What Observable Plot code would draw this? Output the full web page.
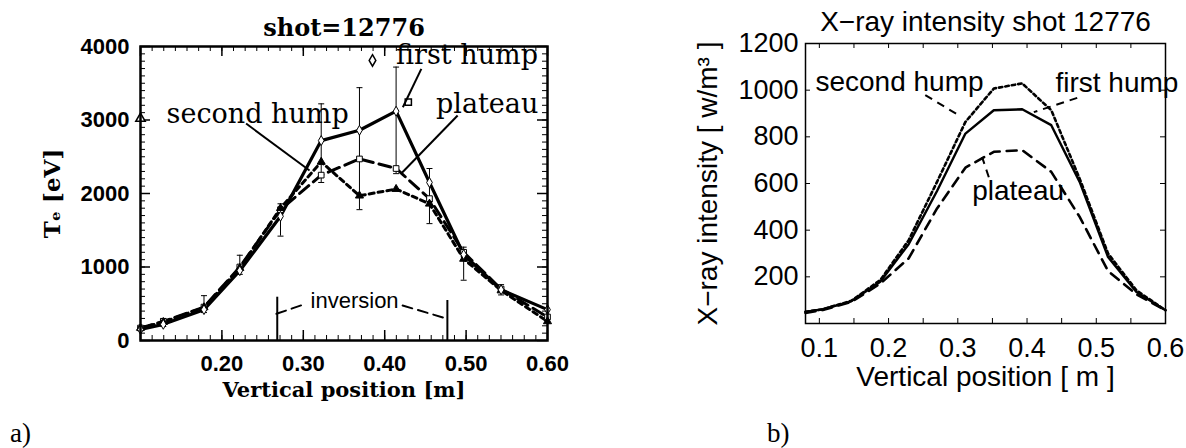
<!DOCTYPE html>
<html><head><meta charset="utf-8">
<script src="https://cdn.jsdelivr.net/npm/d3@7"></script>
<script src="https://cdn.jsdelivr.net/npm/@observablehq/plot@0.6"></script>
<style>
body{margin:0;background:#fff;}
#wrap{position:relative;width:1186px;height:448px;overflow:hidden;background:#fff;}
#wrap svg{position:absolute;top:0;}
.lab{position:absolute;font-family:"Liberation Serif",serif;font-size:27px;color:#000;line-height:1;}
</style></head><body><div id="wrap"></div>
<script>
// ---------- panel a : electron temperature ----------
const posA = [0.100, 0.128, 0.178, 0.222, 0.272, 0.322, 0.369, 0.414, 0.455, 0.497, 0.543, 0.600];
const teFirstHump  = [150, 220, 420, 950, 1690, 2720, 2860, 3120, 2150, 1170, 690, 420];
const teSecondHump = [170, 250, 450, 985, 1800, 2430, 1970, 2060, 1860, 1110, 680, 260];
const tePlateau    = [170, 260, 455, 1000, 1780, 2250, 2470, 2340, 1930, 1200, 700, 320];
const errPos  = [0.128, 0.178, 0.222, 0.272, 0.322, 0.369, 0.414, 0.455, 0.497, 0.543];
const errLow  = [190, 380, 900, 1420, 2150, 1780, 2270, 1590, 820, 620];
const errHigh = [300, 610, 1160, 1860, 3220, 3440, 3720, 2340, 1270, 760];
const xTicksA = [0.2, 0.3, 0.4, 0.5, 0.6];
const yTicksA = [0, 1000, 2000, 3000, 4000];
const labelsA = [
  {text: "second hump", x: 0.132, y: 3083},
  {text: "first hump", x: 0.414, y: 3878},
  {text: "plateau", x: 0.463, y: 3219}
];
const leadersA = [
  {x1: 0.2297, y1: 2952, x2: 0.3077, y2: 2313},
  {x1: 0.445, y1: 3696, x2: 0.4223, y2: 3174},
  {x1: 0.4896, y1: 3061, x2: 0.420, y2: 2268}
];
const legendMarksA = [
  {symbol: "diamond", x: 0.385, y: 3810},
  {symbol: "square", x: 0.429, y: 3242},
  {symbol: "triangle", x: 0.100, y: 3020}
];
const inversionBounds = [{x: 0.268, top: 589}, {x: 0.477, top: 544}];
const inversionDashL = [{x: 0.267, y: 363}, {x: 0.303, y: 499}];
const inversionDashR = [{x: 0.422, y: 476}, {x: 0.473, y: 309}];
const inversionText = {text: "inversion", x: 0.363, y: 540};

// ---------- panel b : X-ray intensity ----------
const posB = [0.080, 0.105, 0.146, 0.188, 0.229, 0.270, 0.311, 0.352, 0.393, 0.435, 0.476, 0.517, 0.558, 0.600];
const xrFirstHump  = [50, 61, 95, 179, 340, 568, 814, 914, 918, 850, 607, 285, 135, 57];
const xrSecondHump = [50, 61, 97, 186, 357, 607, 864, 1007, 1029, 914, 621, 300, 142, 57];
const xrPlateau    = [45, 58, 92, 171, 279, 493, 668, 736, 743, 650, 457, 225, 125, 57];
const xTicksB = [0.1, 0.2, 0.3, 0.4, 0.5, 0.6];
const yTicksB = [200, 400, 600, 800, 1000, 1200];
const labelsB = [
  {text: "second hump", x: 0.0944, y: 1033},
  {text: "first hump", x: 0.441, y: 1030},
  {text: "plateau", x: 0.3208, y: 566}
];
const leadersB = [
  {x1: 0.253, y1: 979, x2: 0.301, y2: 893},
  {x1: 0.4725, y1: 967, x2: 0.4098, y2: 906},
  {x1: 0.3448, y1: 627, x2: 0.3351, y2: 713}
];

// ---------- helpers ----------
const rows = (xs, ys) => xs.map((x, i) => ({x, y: ys[i]}));
const errA = errPos.map((x, i) => ({x, lo: errLow[i], hi: errHigh[i]}));
const capSymbol = {draw(ctx, size) { const w = Math.sqrt(size / Math.PI); ctx.moveTo(-w, 0); ctx.lineTo(w, 0); }};
function frameTicks(xv, yv, len, PW, PH, sw) {
  return [
    Plot.tickY(yv, {y: d => d, insetRight: PW - len, strokeWidth: sw}),
    Plot.tickY(yv, {y: d => d, insetLeft: PW - len, strokeWidth: sw}),
    Plot.tickX(xv, {x: d => d, insetTop: PH - len, strokeWidth: sw}),
    Plot.tickX(xv, {x: d => d, insetBottom: PH - len, strokeWidth: sw})
  ];
}
const centered = {textAnchor: "middle", lineAnchor: "middle"};

// ---------- panel a plot ----------
const WA = 600, H = 448, mlA = 140, mrA = 53, mtA = 46, mbA = 108;
const PWA = WA - mlA - mrA, PHA = H - mtA - mbA;
const xMinorA = d3.range(0, 36).map(i => 0.1 + i * 0.1 / 7);
const yMinorA = d3.range(0, 4001, 100);
const serif = "DejaVu Serif";
const plotA = Plot.plot({
  width: WA, height: H,
  marginLeft: mlA, marginRight: mrA, marginTop: mtA, marginBottom: mbA,
  x: {domain: [0.1, 0.6]},
  y: {domain: [0, 4000]},
  style: {fontFamily: "Liberation Sans", background: "transparent", color: "black", overflow: "visible"},
  marks: [
    ...frameTicks(xMinorA, yMinorA, 5, PWA, PHA, 1),
    ...frameTicks([0.1, 0.2, 0.3, 0.4, 0.5, 0.6], yTicksA, 10, PWA, PHA, 1.5),
    Plot.axisX({ticks: xTicksA, tickSize: 0, tickPadding: 15, tickFormat: d3.format(".2f"), fontSize: 22, fontWeight: "bold", label: null}),
    Plot.axisY({ticks: yTicksA, tickSize: 0, tickPadding: 11, fontSize: 22, fontWeight: "bold", label: null, tickFormat: d => String(d)}),
    // error bars
    Plot.ruleX(errA, {x: "x", y1: "lo", y2: "hi", strokeWidth: 1}),
    Plot.dot(errA, {x: "x", y: "hi", symbol: capSymbol, r: 3, stroke: "black", strokeWidth: 1}),
    Plot.dot(errA, {x: "x", y: "lo", symbol: capSymbol, r: 3, stroke: "black", strokeWidth: 1}),
    // curves
    Plot.line(rows(posA, tePlateau), {x: "x", y: "y", strokeWidth: 3, strokeDasharray: "12,6"}),
    Plot.line(rows(posA, teSecondHump), {x: "x", y: "y", strokeWidth: 3, strokeDasharray: "5,4"}),
    Plot.line(rows(posA, teFirstHump), {x: "x", y: "y", strokeWidth: 3.2}),
    Plot.dot(rows(posA, tePlateau), {x: "x", y: "y", symbol: "square", r: 3.2, fill: "white", stroke: "black", strokeWidth: 1}),
    Plot.dot(rows(posA, teSecondHump), {x: "x", y: "y", symbol: "triangle", r: 3, fill: "black", stroke: "black", strokeWidth: 1}),
    Plot.dot(rows(posA, teFirstHump), {x: "x", y: "y", symbol: "diamond", r: 3, fill: "white", stroke: "black", strokeWidth: 1}),
    // legend / annotations
    Plot.dot(legendMarksA, {x: "x", y: "y", symbol: "symbol", r: 3.5, fill: "white", stroke: "black", strokeWidth: 1.5}),
    Plot.link(leadersA, {x1: "x1", y1: "y1", x2: "x2", y2: "y2", strokeWidth: 2}),
    Plot.text(labelsA, {x: "x", y: "y", text: "text", textAnchor: "start", fontSize: 27, fontFamily: serif}),
    // inversion radius marker
    Plot.ruleX(inversionBounds, {x: "x", y1: 0, y2: "top", strokeWidth: 2}),
    Plot.line(inversionDashL, {x: "x", y: "y", strokeWidth: 2, strokeDasharray: "10,6"}),
    Plot.line(inversionDashR, {x: "x", y: "y", strokeWidth: 2, strokeDasharray: "10,6"}),
    Plot.text([inversionText], {x: "x", y: "y", text: "text", fontSize: 22}),
    // titles
    Plot.text(["shot=12776"], {frameAnchor: "top", dy: -18, ...centered, fontSize: 24, fontWeight: "bold", fontFamily: serif}),
    Plot.text(["Vertical position [m]"], {frameAnchor: "bottom", dy: 50, ...centered, fontSize: 21, fontWeight: "bold", fontFamily: serif}),
    Plot.text(["Tₑ [eV]"], {frameAnchor: "left", dx: -88, rotate: -90, ...centered, fontSize: 23, fontWeight: "bold", fontFamily: serif}),
    Plot.frame({strokeWidth: 2.5})
  ]
});
plotA.style.left = "0px";

// ---------- panel b plot ----------
const WB = 586, mlB = 205, mrB = 21, mtB = 43, mbB = 125;
const PWB = WB - mlB - mrB, PHB = H - mtB - mbB;
const xTickMarksB = d3.range(0, 10).map(i => 0.1 + i * 0.05);
const plotB = Plot.plot({
  width: WB, height: H,
  marginLeft: mlB, marginRight: mrB, marginTop: mtB, marginBottom: mbB,
  x: {domain: [0.08, 0.6]},
  y: {domain: [0, 1200]},
  style: {fontFamily: "Liberation Sans", background: "transparent", color: "black", overflow: "visible"},
  marks: [
    ...frameTicks(xTickMarksB, yTicksB, 5, PWB, PHB, 1),
    Plot.axisX({ticks: xTicksB, tickSize: 0, tickPadding: 14, tickFormat: d => String(d), fontSize: 27, label: null}),
    Plot.axisY({ticks: yTicksB, tickSize: 0, tickPadding: 7, fontSize: 27, label: null, tickFormat: d => String(d)}),
    Plot.line(rows(posB, xrPlateau), {x: "x", y: "y", strokeWidth: 2.6, strokeDasharray: "10,7"}),
    Plot.line(rows(posB, xrSecondHump), {x: "x", y: "y", strokeWidth: 2.6, strokeDasharray: "3.5,3"}),
    Plot.line(rows(posB, xrFirstHump), {x: "x", y: "y", strokeWidth: 2.4}),
    Plot.link(leadersB, {x1: "x1", y1: "y1", x2: "x2", y2: "y2", strokeWidth: 2, strokeDasharray: "8,6"}),
    Plot.text(labelsB, {x: "x", y: "y", text: "text", textAnchor: "start", fontSize: 28}),
    Plot.text(["X−ray intensity shot 12776"], {frameAnchor: "top", dy: -21, ...centered, fontSize: 28}),
    Plot.text(["Vertical position [ m ]"], {frameAnchor: "bottom", dy: 54, ...centered, fontSize: 28}),
    Plot.text(["X−ray intensity [ w/m³ ]"], {frameAnchor: "left", dx: -97, rotate: -90, ...centered, fontSize: 28}),
    Plot.frame({strokeWidth: 1.5})
  ]
});
plotB.style.left = "600px";

const wrap = document.getElementById("wrap");
wrap.append(plotA, plotB);
const la = document.createElement("div"); la.className = "lab"; la.textContent = "a)"; la.style.left = "10px"; la.style.top = "420px";
const lb = document.createElement("div"); lb.className = "lab"; lb.textContent = "b)"; lb.style.left = "767px"; lb.style.top = "420px";
wrap.append(la, lb);
</script>
</body></html>
